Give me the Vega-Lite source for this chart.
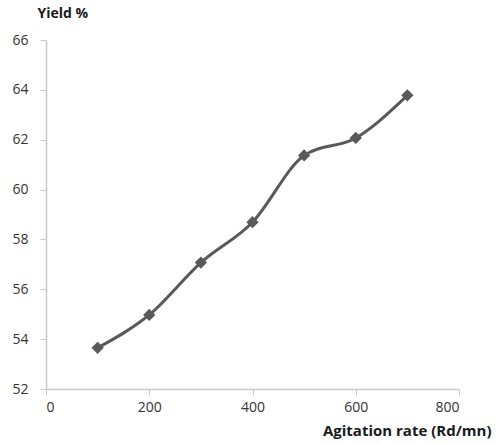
{
  "$schema": "https://vega.github.io/schema/vega-lite/v6.json",
  "autosize": "none",
  "width": 413,
  "height": 349,
  "padding": {"left": 46, "top": 40, "right": 41, "bottom": 56},
  "background": "white",
  "config": {"view": {"stroke": null}, "font": "Open Sans"},
  "data": {"values": [
    {"rate": 100, "yield": 53.65},
    {"rate": 200, "yield": 54.97},
    {"rate": 300, "yield": 57.07},
    {"rate": 400, "yield": 58.69},
    {"rate": 500, "yield": 61.37},
    {"rate": 600, "yield": 62.07},
    {"rate": 700, "yield": 63.78}
  ]},
  "encoding": {
    "x": {"field": "rate", "type": "quantitative",
      "scale": {"domain": [0, 800], "nice": false},
      "axis": {"values": [0, 200, 400, 600, 800], "grid": false, "title": "Agitation rate (Rd/mn)",
        "domainColor": "#c8c8c8", "tickColor": "#c8c8c8", "tickSize": 6, "domainWidth": 1.5,
        "labelColor": "#333333", "labelFontSize": 14, "labelPadding": 5, "labelFont": "Open Sans",
        "titleFontSize": 15, "titleFontWeight": "bold", "titleColor": "#1a1a1a", "titleFont": "Open Sans",
        "titleAlign": "right", "titleX": 445, "titleY": 46, "titleBaseline": "alphabetic"}},
    "y": {"field": "yield", "type": "quantitative",
      "scale": {"domain": [52, 66], "nice": false, "zero": false},
      "axis": {"values": [52, 54, 56, 58, 60, 62, 64, 66], "grid": false, "title": "Yield %",
        "domainColor": "#c8c8c8", "tickColor": "#c8c8c8", "tickSize": 6, "domainWidth": 1.5,
        "labelColor": "#333333", "labelFontSize": 14, "labelPadding": 12, "labelFont": "Open Sans",
        "titleFontSize": 14, "titleFontWeight": "bold", "titleColor": "#1a1a1a", "titleFont": "Open Sans",
        "titleAngle": 0, "titleAlign": "left", "titleX": -9, "titleY": -23, "titleBaseline": "alphabetic"}}
  },
  "layer": [
    {"mark": {"type": "line", "interpolate": "monotone", "color": "#595959", "strokeWidth": 3}},
    {"mark": {"type": "point", "shape": "diamond", "filled": true, "opacity": 1, "color": "#595959", "size": 150}}
  ]
}
